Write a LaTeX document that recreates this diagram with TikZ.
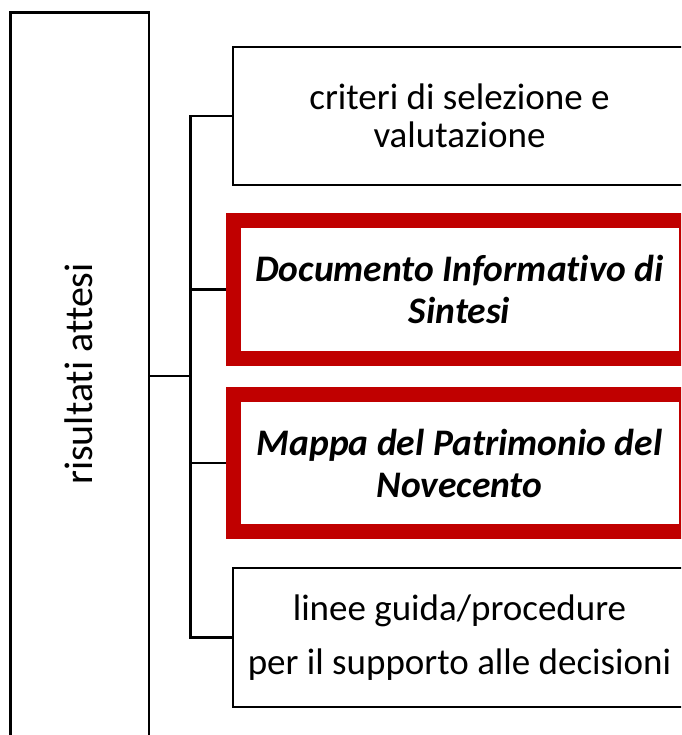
\documentclass[tikz,border=0pt]{standalone}
\usepackage{fontspec}
\setmainfont[Ligatures={NoCommon}]{Carlito}
\definecolor{redb}{RGB}{192,0,0}
\begin{document}
\begin{tikzpicture}[x=1pt,y=-1pt,
  plainbox/.style={draw=black, line width=2.2pt, fill=white, minimum width=453pt, align=center},
  redbox/.style={draw=redb, line width=15pt, fill=white, minimum width=453pt, align=center,
    font=\fontsize{37.5}{42}\selectfont\bfseries\itshape},
  link/.style={draw=black, line width=2.2pt}]
\useasboundingbox (0,0) rectangle (681,735);
\clip (0,0) rectangle (681,735);
\node[draw=black, line width=2.2pt, minimum width=138.5pt, minimum height=727pt] (res) at (79.75,376) {};
\node[rotate=90, font=\fontsize{40}{40}\selectfont] (reslabel) at (79,374) {risultati attesi};
\node[plainbox, minimum height=138pt, font=\fontsize{37}{38}\selectfont] (b1) at (459.5,116) {criteri di selezione e\\valutazione};
\node[redbox, minimum height=137.5pt] (b2) at (459.5,289.5) {Documento Informativo di\\Sintesi};
\node[redbox, minimum height=137.8pt] (b3) at (459.5,463) {Mappa del Patrimonio del\\Novecento};
\node[plainbox, minimum height=139pt, font=\fontsize{37}{54}\selectfont] (b4) at (459.5,637.5) {linee guida/procedure\\per il supporto alle decisioni};
\coordinate (bx) at (190.5,376);
\draw[link] (b1.west) -- (b1.west -| bx) -- (b4.west -| bx) -- (b4.west);
\draw[link] (b2.west) -- (b2.west -| bx);
\draw[link] (b3.west) -- (b3.west -| bx);
\draw[link] (res.east) -- (res.east -| bx);
\end{tikzpicture}
\end{document}
